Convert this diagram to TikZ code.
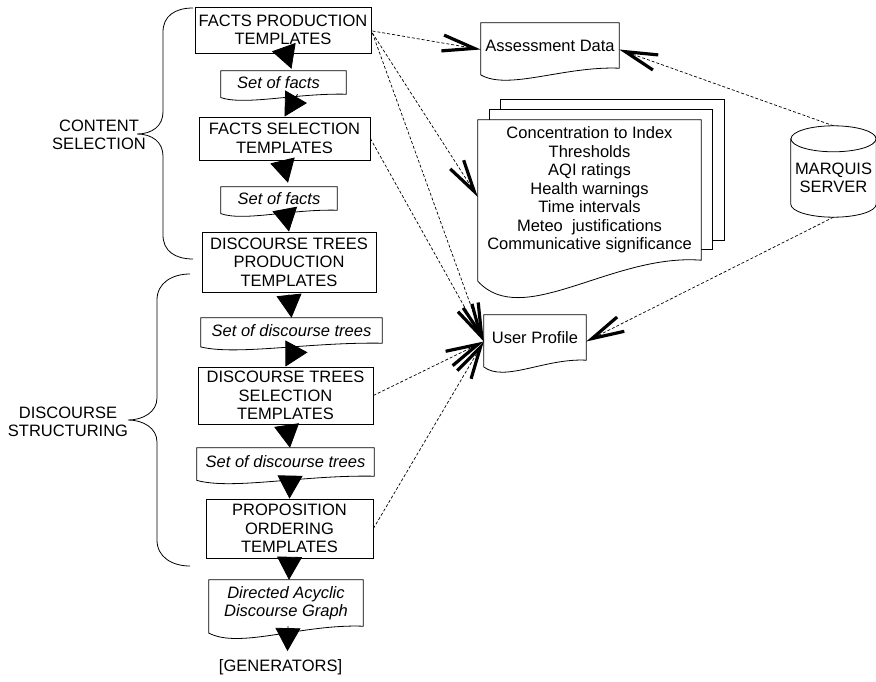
\documentclass[tikz,border=0pt]{standalone}
\usepackage{fontspec}
\setmainfont{Liberation Sans}
\usetikzlibrary{arrows.meta,calc,backgrounds}
\newcommand\docoutline[2]{%
  \draw[docline] (#1.north west) -- (#1.north east) -- (#1.south east)
    .. controls ($(#1.south east)!0.4!(#1.south west)+(0,{-0.05*#2})$) and ($(#1.south east)!0.8!(#1.south west)+(0,{0.5*#2})$) .. ($(#1.south west)+(0,{0.15*#2})$) -- cycle;}
\begin{document}
\begin{tikzpicture}[x=1pt,y=-1pt,
  every node/.style={font=\fontsize{16.5}{18.5}\selectfont, inner sep=0pt},
  tbox/.style={rectangle, draw, line width=0.8pt, fill=white, align=center},
  dbox/.style={rectangle, align=center, font=\fontsize{16.5}{18.5}\selectfont\itshape},
  docn/.style={rectangle, align=center},
  docline/.style={draw, line width=0.8pt, fill=white},
  flow/.style={-{Triangle[length=23pt,width=25pt]}, line width=0.8pt},
  link/.style={dash pattern=on 3pt off 2pt, line width=0.7pt, -{Straight Barb[length=32pt,width=16pt,line width=3.2pt]}},
  brace/.style={line width=0.8pt}
]
\useasboundingbox (0,0) rectangle (876,682);

% left column
\node[tbox, minimum width=176pt, minimum height=46pt] (fp) at (283,30) {FACTS PRODUCTION\\TEMPLATES};
\node[dbox, minimum width=125pt, minimum height=23pt] (sof1) at (283.5,82.5) {\hspace*{-10pt}Set of facts};
\node[tbox, minimum width=171pt, minimum height=43pt] (fs) at (284.5,138.5) {FACTS SELECTION\\TEMPLATES};
\node[dbox, minimum width=116pt, minimum height=23pt] (sof2) at (279,198.5) {Set of facts};
\node[tbox, minimum width=174pt, minimum height=60pt] (dtp) at (289,262) {DISCOURSE TREES\\PRODUCTION\\TEMPLATES};
\node[dbox, minimum width=181pt, minimum height=25pt] (sodt1) at (291.5,330.5) {Set of discourse trees};
\node[tbox, minimum width=175pt, minimum height=57pt] (dts) at (285.5,395.5) {DISCOURSE TREES\\SELECTION\\TEMPLATES};
\node[dbox, minimum width=177pt, minimum height=28pt] (sodt2) at (285.5,462) {Set of discourse trees};
\node[tbox, minimum width=167pt, minimum height=59pt] (po) at (289.5,528.5) {PROPOSITION\\ORDERING\\TEMPLATES};
\node[dbox, minimum width=154pt, minimum height=46pt] (dag) at (286,603) {Directed Acyclic\\Discourse Graph};
\node (gen) at (280.5,667) {[GENERATORS]};

% right side
\node[docn, minimum width=138pt, minimum height=45pt] (ad) at (550,45.5) {Assessment Data};
\node[docn, minimum width=102pt, minimum height=45pt] (up) at (535,337.5) {User Profile};
\node[docn, minimum width=223pt, minimum height=140pt] (stk) at (589.5,190) {Concentration to Index\\Thresholds\\AQI ratings\\Health warnings\\Time intervals\\Meteo\ \ justifications\\Communicative significance};
\node[docn, minimum width=85pt, minimum height=78pt] (marq) at (833.5,178) {MARQUIS\\SERVER};
\coordinate (marqtop) at ($(marq.north)+(0,-13)$);

% brace labels
\node[align=center] (cs) at (99,135) {CONTENT\\SELECTION};
\node[align=center] (ds) at (68,422) {DISCOURSE\\STRUCTURING};

% shapes behind text
\begin{scope}[on background layer]
  \draw[docline] ($(stk.north west)+(23,-20)$) rectangle ($(stk.south east)+(23,-20)$);
  \draw[docline] ($(stk.north west)+(11.5,-10.5)$) rectangle ($(stk.south east)+(11.5,-10.5)$);
  \docoutline{stk}{140}
  \docoutline{ad}{45}
  \docoutline{up}{45}
  \docoutline{sof1}{23}
  \docoutline{sof2}{23}
  \docoutline{sodt1}{25}
  \docoutline{sodt2}{28}
  \docoutline{dag}{46}
  % cylinder
  \draw[docline] (marq.north west) -- ($(marq.south west)+(0,-13)$)
    .. controls ($(marq.south west)+(0,-5.82)$) and ($(marq.south)+(-23.47,0)$) .. (marq.south)
    .. controls ($(marq.south)+(23.47,0)$) and ($(marq.south east)+(0,-5.82)$) .. ($(marq.south east)+(0,-13)$)
    -- (marq.north east) -- cycle;
  \draw[docline] (marq.north) ellipse [x radius=42.5pt, y radius=13pt];
\end{scope}

% braces
\draw[brace] (193,8) .. controls (175,8) and (163,16) .. (163,32) -- (163,112)
  .. controls (163,126) and (152,134) .. (137,134)
  .. controls (152,134) and (163,142) .. (163,156) -- (163,235)
  .. controls (163,251) and (175,259) .. (193,259);
\draw[brace] (190,274) .. controls (172,274) and (157,283) .. (157,300) -- (157,398)
  .. controls (157,412) and (143,420) .. (128,420)
  .. controls (143,420) and (157,428) .. (157,442) -- (157,540)
  .. controls (157,557) and (172,566) .. (190,566);

% flow arrows
\draw[flow] ($(fp.south)+(3,0)$) -- ($(sof1.north)+(8,-2)$);
\draw[flow] ($(sof1.south)+(14,0)$) -- (fs.north);
\draw[flow] ($(fs.south)+(-2,0)$) -- ($(sof2.north)+(9,-4)$);
\draw[flow] ($(sof2.south)+(6,0)$) -- (dtp.north);
\draw[flow] ($(dtp.south)+(0,2)$) -- (sodt1.north);
\draw[flow] ($(sodt1.south)+(5,3)$) -- (dts.north);
\draw[flow] ($(dts.south)+(1,0)$) -- ($(sodt2.north)+(4.5,0)$);
\draw[flow] ($(sodt2.south)+(4.5,0)$) -- (po.north);
\draw[flow] (po.south) -- ($(dag.north)+(3,0)$);
\draw[flow] ($(dag.south)+(2,0)$) -- ($(gen.north)+(7,-8)$);

% dashed links
\draw[link] ($(fp.east)+(1,1)$) -- ($(ad.west)+(0,4)$);
\draw[link] ($(fp.east)+(1,3)$) -- ($(stk.west)+(0,7)$);
\draw[link] ($(fp.east)+(1,3)$) -- ($(up.west)+(0,4)$);
\draw[link] (fs.east) -- ($(up.west)+(0,4)$);
\draw[link] (dts.east) -- ($(up.west)+(0,4)$);
\draw[link] (po.east) -- ($(up.west)+(0,4)$);
\draw[link] (marqtop) -- ($(ad.east)+(0,4)$);
\draw[link] (marq.south) -- ($(up.east)+(0,4)$);
\end{tikzpicture}
\end{document}
